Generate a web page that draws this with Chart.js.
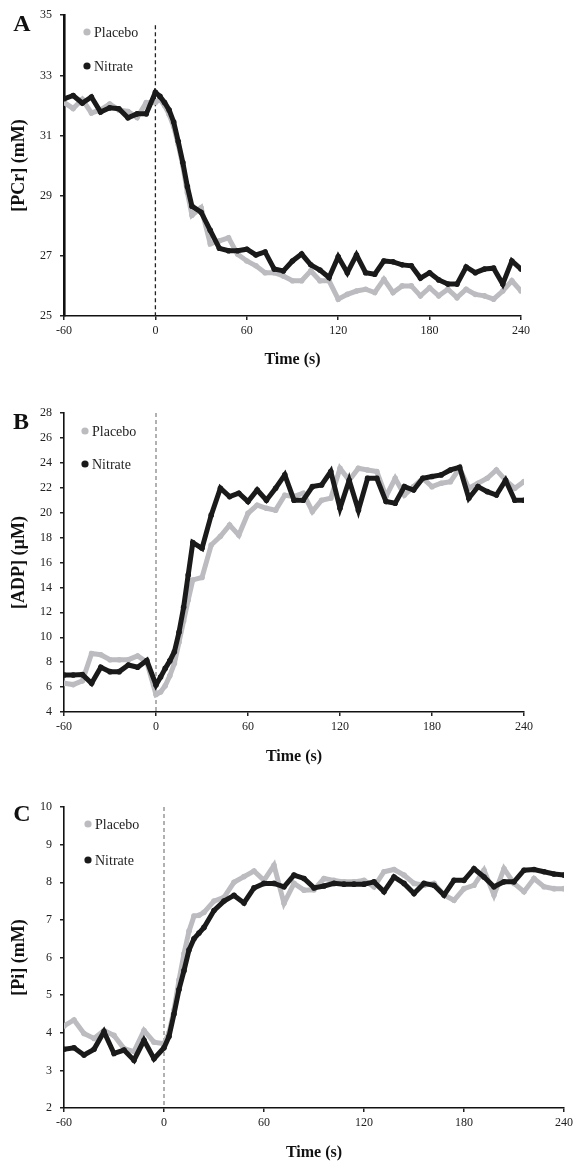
<!DOCTYPE html>
<html>
<head>
<meta charset="utf-8">
<script src="https://cdn.jsdelivr.net/npm/chart.js@4.4.1/dist/chart.umd.min.js"></script>
<style>
    html, body { margin: 0; padding: 0; background: #fff; overflow: hidden; }
    .painel { position: absolute; left: 0; width: 577px; }
</style>
</head>
<body>
<div class="painel" style="top:0;height:380px"><canvas id="graficoPCr"></canvas></div>
<div class="painel" style="top:380px;height:400px"><canvas id="graficoADP"></canvas></div>
<div class="painel" style="top:780px;height:382px"><canvas id="graficoPi"></canvas></div>
<script>
// time points (s), shared by all six series
const timeSec = [-60, -54, -48, -42, -36, -30, -24, -18, -12, -6, 0,
    3, 6, 9, 12, 15, 18, 21, 24,
    30, 36, 42, 48, 54, 60, 66, 72, 78, 84, 90, 96, 102, 108, 114, 120, 126, 132,
    138, 144, 150, 156, 162, 168, 174, 180, 186, 192, 198, 204, 210, 216, 222, 228, 234, 240];

const pcrPlacebo = [32.1, 31.9, 32.2, 31.75, 31.85, 32.05, 31.85, 31.8, 31.6, 32.1, 32.1,
    32.2, 32.0, 31.7, 31.3, 30.7, 30.0, 29.1, 28.35,
    28.6, 27.4, 27.5, 27.6, 27.05, 26.83, 26.67, 26.44, 26.44, 26.33, 26.17, 26.17, 26.5, 26.17, 26.17, 25.56, 25.72, 25.83,
    25.89, 25.78, 26.22, 25.78, 26.0, 26.0, 25.67, 25.94, 25.67, 25.89, 25.61, 25.89, 25.72, 25.67, 25.56, 25.83, 26.17, 25.83];
const pcrNitrate = [32.22, 32.33, 32.08, 32.28, 31.78, 31.92, 31.89, 31.59, 31.72, 31.72, 32.44,
    32.3, 32.1, 31.85, 31.45, 30.8, 30.1, 29.3, 28.65,
    28.45, 27.85, 27.25, 27.17, 27.17, 27.22, 27.03, 27.13, 26.56, 26.5, 26.83, 27.06, 26.7, 26.53, 26.28, 26.97, 26.44, 27.03,
    26.44, 26.39, 26.83, 26.8, 26.7, 26.67, 26.26, 26.44, 26.2, 26.06, 26.06, 26.63, 26.44, 26.56, 26.59, 26.06, 26.83, 26.56];

const adpPlacebo = [6.3, 6.2, 6.5, 8.7, 8.6, 8.2, 8.2, 8.2, 8.5, 8.0, 5.4,
    5.6, 6.1, 6.9, 7.9, 9.6, 11.3, 13.0, 14.6,
    14.8, 17.4, 18.1, 19.0, 18.2, 19.95, 20.6, 20.35, 20.2, 21.4, 21.3, 21.56, 20.1, 21.0, 21.16, 23.56, 22.6, 23.56,
    23.43, 23.3, 21.3, 22.76, 21.42, 22.09, 22.76, 22.09, 22.36, 22.49, 23.56, 21.96, 22.36, 22.76, 23.43, 22.6, 21.96, 22.49];
const adpNitrate = [6.97, 6.97, 7.0, 6.3, 7.59, 7.24, 7.24, 7.77, 7.59, 8.13, 6.17,
    6.8, 7.5, 8.1, 8.84, 10.4, 12.4, 15.0, 17.6,
    17.14, 19.8, 21.96, 21.29, 21.56, 20.89, 21.82, 21.0, 21.96, 23.03, 21.0, 21.0, 22.09, 22.22, 23.3, 20.35, 22.6, 20.2,
    22.76, 22.76, 20.89, 20.75, 22.09, 21.82, 22.76, 22.9, 23.03, 23.43, 23.64, 21.16, 22.09, 21.69, 21.42, 22.6, 21.0, 21.0];

const piPlacebo = [4.18, 4.34, 3.98, 3.85, 4.06, 3.93, 3.58, 3.5, 4.06, 3.75, 3.71,
    4.0, 4.6, 5.4, 6.1, 6.7, 7.1, 7.12, 7.2,
    7.5, 7.6, 8.0, 8.15, 8.3, 8.05, 8.45, 7.44, 7.97, 7.79, 7.8, 8.1, 8.05, 8.01, 8.01, 8.05, 7.88, 8.28,
    8.34, 8.19, 7.97, 7.92, 7.97, 7.66, 7.52, 7.83, 7.92, 8.32, 7.66, 8.36, 7.97, 7.75, 8.1, 7.88, 7.83, 7.83];
const piNitrate = [3.56, 3.6, 3.41, 3.56, 4.03, 3.45, 3.54, 3.27, 3.8, 3.31, 3.6,
    3.9, 4.5, 5.15, 5.65, 6.2, 6.5, 6.65, 6.8,
    7.25, 7.5, 7.65, 7.45, 7.85, 7.97, 7.97, 7.88, 8.19, 8.1, 7.85, 7.9, 7.97, 7.95, 7.95, 7.95, 8.01, 7.75,
    8.14, 7.97, 7.7, 7.97, 7.92, 7.66, 8.05, 8.05, 8.36, 8.14, 7.88, 8.01, 8.01, 8.32, 8.34, 8.28, 8.22, 8.19];

// tick labels
const xTicks = [-60, 0, 60, 120, 180, 240];
const pcrTicks = [25, 27, 29, 31, 33, 35];
const adpTicks = [4, 6, 8, 10, 12, 14, 16, 18, 20, 22, 24, 26, 28];
const piTicks = [2, 3, 4, 5, 6, 7, 8, 9, 10];

const GRAY = '#bcbcc0';
const BLACK = '#1a1a1a';
const SERIF = '"Liberation Serif", "Times New Roman", serif';

// dashed line at t = 0, panel letter and the little legend inside the plot
const panelExtras = {
    id: 'panelExtras',
    beforeDatasetsDraw(chart, args, opts) {
        const ctx = chart.ctx;
        const x = chart.scales.x.getPixelForValue(0);
        ctx.save();
        ctx.strokeStyle = opts.dashColor;
        ctx.lineWidth = 1.3;
        ctx.setLineDash([4, 3]);
        ctx.beginPath();
        ctx.moveTo(x, chart.chartArea.top + opts.dashTop);
        ctx.lineTo(x, chart.chartArea.bottom);
        ctx.stroke();
        ctx.restore();
    },
    afterDraw(chart, args, opts) {
        const ctx = chart.ctx;
        ctx.save();
        ctx.fillStyle = '#111';
        ctx.font = 'bold 24px ' + SERIF;
        ctx.textAlign = 'center';
        ctx.textBaseline = 'middle';
        ctx.fillText(opts.letter, opts.letterX, opts.letterY);
        ctx.font = '14px ' + SERIF;
        ctx.textAlign = 'left';
        chart.data.datasets.forEach((ds, i) => {
            const y = opts.legendY[i];
            ctx.fillStyle = ds.borderColor;
            ctx.beginPath();
            ctx.arc(opts.legendX, y, 3.6, 0, Math.PI * 2);
            ctx.fill();
            ctx.fillStyle = '#1e1e1e';
            ctx.fillText(ds.label, opts.legendX + 7, y + 1);
        });
        ctx.restore();
    }
};

function serie(label, values, color, order) {
    return {
        label: label,
        data: timeSec.map((t, i) => ({ x: t, y: values[i] })),
        borderColor: color,
        backgroundColor: color,
        borderWidth: 5,
        pointRadius: 2.8,
        pointBorderWidth: 0,
        tension: 0,
        order: order
    };
}

function makeChart(id, placebo, nitrate, yTicks, yTitle, box, extras) {
    new Chart(document.getElementById(id), {
        type: 'line',
        data: {
            datasets: [
                serie('Placebo', placebo, GRAY, 1),
                serie('Nitrate', nitrate, BLACK, 0)
            ]
        },
        plugins: [panelExtras],
        options: {
            responsive: true,
            maintainAspectRatio: false,
            animation: false,
            layout: { padding: box.padding },
            plugins: {
                legend: { display: false },
                tooltip: { enabled: false },
                panelExtras: extras
            },
            scales: {
                x: {
                    type: 'linear',
                    min: xTicks[0],
                    max: xTicks[xTicks.length - 1],
                    afterBuildTicks: s => { s.ticks = xTicks.map(v => ({ value: v })); },
                    afterFit: s => { s.height = box.xHeight; },
                    ticks: { color: '#222', padding: 4, font: { family: SERIF, size: 12 } },
                    grid: { drawOnChartArea: false, drawTicks: true, tickLength: 4, color: '#222', lineWidth: 1.5 },
                    border: { color: '#111', width: 1.6 },
                    title: {
                        display: true, text: 'Time (s)', color: '#111',
                        font: { family: SERIF, size: 16, weight: 'bold' },
                        padding: { top: 0, bottom: box.titlePad }
                    }
                },
                y: {
                    min: yTicks[0],
                    max: yTicks[yTicks.length - 1],
                    afterBuildTicks: s => { s.ticks = yTicks.map(v => ({ value: v })); },
                    afterFit: s => { s.width = 64; },
                    ticks: { color: '#222', padding: 8, font: { family: SERIF, size: 12 } },
                    grid: { drawOnChartArea: false, drawTicks: true, tickLength: 4, color: '#222', lineWidth: 1.5 },
                    border: { color: '#111', width: box.yBorder },
                    title: {
                        display: true, text: yTitle, color: '#111',
                        font: { family: SERIF, size: 18, weight: 'bold' },
                        padding: { top: 9, bottom: 0 }
                    }
                }
            }
        }
    });
}

window.onload = function () {
    makeChart('graficoPCr', pcrPlacebo, pcrNitrate, pcrTicks, '[PCr] (mM)',
        { padding: { top: 15, bottom: 9, left: 0, right: 56 }, xHeight: 55, titlePad: 2, yBorder: 2.6 },
        { letter: 'A', letterX: 22, letterY: 25, dashColor: '#222', dashTop: 10, legendX: 87, legendY: [32, 66] });

    makeChart('graficoADP', adpPlacebo, adpNitrate, adpTicks, '[ADP] (µM)',
        { padding: { top: 33, bottom: 13, left: 0, right: 53 }, xHeight: 55, titlePad: 1, yBorder: 1.6 },
        { letter: 'B', letterX: 21, letterY: 43, dashColor: '#888', dashTop: 0, legendX: 85, legendY: [51, 84] });

    makeChart('graficoPi', piPlacebo, piNitrate, piTicks, '[Pi] (mM)',
        { padding: { top: 27, bottom: 0, left: 0, right: 9 }, xHeight: 54, titlePad: 0, yBorder: 1.6 },
        { letter: 'C', letterX: 22, letterY: 35, dashColor: '#888', dashTop: 0, legendX: 88, legendY: [44, 80] });
}
</script>
</body>
</html>
